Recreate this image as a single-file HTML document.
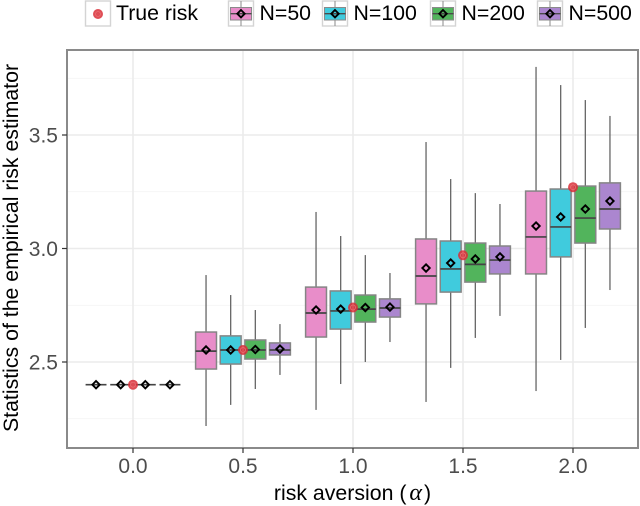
<!DOCTYPE html>
<html>
<head>
<meta charset="utf-8">
<style>
html,body{margin:0;padding:0;background:#fff;width:640px;height:506px;overflow:hidden}
svg{display:block}
text{font-family:"Liberation Sans",sans-serif}
</style>
</head>
<body>
<svg id="chart" width="640" height="506" viewBox="0 0 640 506" xmlns="http://www.w3.org/2000/svg">
  <g id="grid"></g>
  <g id="marks"></g>
  <rect x="67" y="50" width="571" height="398" fill="none" stroke="#8a8a8a" stroke-width="2"/>
  <g id="axes"></g>
  <text transform="translate(18,248) rotate(-90)" text-anchor="middle" font-size="21.3" fill="#000">Statistics of the empirical risk estimator</text>
  <text x="352.5" y="500" text-anchor="middle" font-size="21.3" fill="#000">risk aversion (<tspan dx="3" font-family="Liberation Serif" font-style="italic" font-size="24">α</tspan><tspan dx="2">)</tspan></text>
  <g id="legend"></g>
</svg>
<script>
var alphas = [0, 0.5, 1, 1.5, 2];
var groups = ["N=50", "N=100", "N=200", "N=500"];
var trueRisk = [2.4, 2.553, 2.74, 2.97, 3.27];
var whiskerLow = [
  [2.4, 2.218, 2.289, 2.324, 2.372],
  [2.4, 2.311, 2.403, 2.474, 2.509],
  [2.4, 2.381, 2.5, 2.606, 2.65],
  [2.4, 2.443, 2.588, 2.703, 2.817]
];
var quartile1 = [
  [2.4, 2.469, 2.61, 2.756, 2.888],
  [2.4, 2.491, 2.645, 2.808, 2.963],
  [2.4, 2.513, 2.676, 2.852, 3.024],
  [2.4, 2.531, 2.698, 2.888, 3.086]
];
var medians = [
  [2.4, 2.548, 2.716, 2.879, 3.051],
  [2.4, 2.553, 2.725, 2.91, 3.095],
  [2.4, 2.553, 2.733, 2.93, 3.134],
  [2.4, 2.553, 2.738, 2.949, 3.174]
];
var quartile3 = [
  [2.4, 2.632, 2.83, 3.042, 3.253],
  [2.4, 2.615, 2.813, 3.033, 3.262],
  [2.4, 2.597, 2.795, 3.024, 3.275],
  [2.4, 2.584, 2.778, 3.011, 3.289]
];
var whiskerHigh = [
  [2.4, 2.883, 3.161, 3.469, 3.8],
  [2.4, 2.795, 3.055, 3.306, 3.72],
  [2.4, 2.729, 2.971, 3.244, 3.654],
  [2.4, 2.667, 2.892, 3.196, 3.584]
];
var means = [
  [2.4, 2.553, 2.729, 2.914, 3.099],
  [2.4, 2.553, 2.733, 2.936, 3.139],
  [2.4, 2.555, 2.74, 2.954, 3.174],
  [2.4, 2.557, 2.742, 2.963, 3.209]
];
var xTicks = ["0.0", "0.5", "1.0", "1.5", "2.0"];
var yTicks = ["2.5", "3.0", "3.5"];
var yMinorTicks = [2.25, 2.75, 3.25, 3.75];
var fills = ["#e88dc9", "#40cbdd", "#52b45c", "#ab86cf"];

var NS = "http://www.w3.org/2000/svg";
function sx(v){ return 133 + v * 220; }
function sy(v){ return 362 - (v - 2.5) * 227; }
function mk(parent, tag){
  var e = document.createElementNS(NS, tag);
  parent.appendChild(e);
  return e;
}
function line(parent, x1, y1, x2, y2, color, w, name){
  var l = mk(parent, "line");
  l.setAttribute("x1", x1);
  l.setAttribute("y1", y1);
  l.setAttribute("x2", x2);
  l.setAttribute("y2", y2);
  l.setAttribute("stroke", color);
  l.setAttribute("stroke-width", w);
  
  
  return l;
}
function diamond(parent, cx, cy, name){
  var d = mk(parent, "polygon");
  var r = 3.7;
  d.setAttribute("points", cx + "," + (cy - r) + " " + (cx + r) + "," + cy + " " + cx + "," + (cy + r) + " " + (cx - r) + "," + cy);
  d.setAttribute("fill", "none");
  d.setAttribute("stroke", "#000");
  d.setAttribute("stroke-width", "1.9");
  
  
  return d;
}
function riskDot(parent, cx, cy, name){
  var g = mk(parent, "g");
  
  
  var c = mk(g, "circle");
  c.setAttribute("cx", cx);
  c.setAttribute("cy", cy);
  c.setAttribute("r", 5);
  c.setAttribute("fill", "#d92f38");
  c.setAttribute("fill-opacity", "0.85");
  var c2 = mk(g, "circle");
  c2.setAttribute("cx", cx);
  c2.setAttribute("cy", cy);
  c2.setAttribute("r", 2.5);
  c2.setAttribute("fill", "none");
  c2.setAttribute("stroke", "#e86f72");
  c2.setAttribute("stroke-width", "0.8");
}
function label(parent, x, y, str, anchor, size, color, name){
  var t = mk(parent, "text");
  t.setAttribute("x", x);
  t.setAttribute("y", y);
  t.setAttribute("text-anchor", anchor);
  t.setAttribute("font-size", size);
  t.setAttribute("fill", color);
  
  
  t.textContent = str;
  return t;
}

var grid = document.getElementById("grid");
var marks = document.getElementById("marks");
var axes = document.getElementById("axes");
var legend = document.getElementById("legend");

yMinorTicks.forEach(function(v){
  line(grid, 67, sy(v), 638, sy(v), "#f2f2f2", 0.8, "y-minor-gridline");
});
yTicks.forEach(function(s){
  var v = parseFloat(s);
  line(grid, 67, sy(v), 638, sy(v), "#ebebeb", 1.6, "y-major-gridline");
  line(axes, 62, sy(v), 67, sy(v), "#333", 1.2, "y-tick");
  label(axes, 58, sy(v) + 7.5, s, "end", 21, "#4d4d4d", "y-tick-label");
});
xTicks.forEach(function(s){
  var v = parseFloat(s);
  line(grid, sx(v), 50, sx(v), 448, "#ebebeb", 1.6, "x-major-gridline");
  line(axes, sx(v), 448, sx(v), 453, "#333", 1.2, "x-tick");
  label(axes, sx(v), 473, s, "middle", 21, "#4d4d4d", "x-tick-label");
});

var offsets = [-0.168, -0.056, 0.056, 0.168];
var boxW = 0.095;
alphas.forEach(function(a, i){
  groups.forEach(function(n, g){
    var cx = sx(a + offsets[g]);
    var left = sx(a + offsets[g] - boxW / 2);
    var w = boxW * 220;
    var box = mk(marks, "g");
    
    
    line(box, cx, sy(whiskerLow[g][i]), cx, sy(quartile1[g][i]), "#666", 1.3, "whisker-low");
    line(box, cx, sy(quartile3[g][i]), cx, sy(whiskerHigh[g][i]), "#666", 1.3, "whisker-high");
    var r = mk(box, "rect");
    r.setAttribute("x", left);
    r.setAttribute("y", sy(quartile3[g][i]));
    r.setAttribute("width", w);
    r.setAttribute("height", Math.max(0, sy(quartile1[g][i]) - sy(quartile3[g][i])));
    r.setAttribute("fill", fills[g]);
    r.setAttribute("stroke", "#858585");
    r.setAttribute("stroke-width", "1.5");
    
    
    line(box, left, sy(medians[g][i]), left + w, sy(medians[g][i]), "#444", 1.7, "median-line");
    diamond(box, cx, sy(means[g][i]), "mean-marker");
  });
  riskDot(marks, sx(a), sy(trueRisk[i]), "true-risk-point");
});

/* legend */
function keyBg(x){
  var k = mk(legend, "rect");
  k.setAttribute("x", x);
  k.setAttribute("y", 1);
  k.setAttribute("width", 25);
  k.setAttribute("height", 25);
  k.setAttribute("fill", "#fff");
  k.setAttribute("stroke", "#d4d4d4");
  k.setAttribute("stroke-width", "1.4");
  
  
}
keyBg(85.5);
riskDot(legend, 98, 14, "legend-true-risk-dot");
label(legend, 116, 20, "True risk", "start", 21.3, "#000", "legend-label-true-risk");
var legendKeyX = [228.5, 322.5, 430.5, 537.5];
groups.forEach(function(n, g){
  var x = legendKeyX[g];
  keyBg(x);
  line(legend, x + 12.5, 1, x + 12.5, 26, "#8a8a8a", 1, "legend-whisker");
  var r = mk(legend, "rect");
  r.setAttribute("x", x + 2);
  r.setAttribute("y", 7.5);
  r.setAttribute("width", 21);
  r.setAttribute("height", 12.5);
  r.setAttribute("fill", fills[g]);
  r.setAttribute("stroke", "#8a8a8a");
  r.setAttribute("stroke-width", "1");
  
  
  line(legend, x + 2, 13.7, x + 23, 13.7, "#4a4a4a", 1.4, "legend-median");
  diamond(legend, x + 12.5, 13.7, "legend-mean-marker");
  label(legend, x + 31, 20, n, "start", 21.3, "#000", "legend-label");
});
</script>
</body>
</html>
